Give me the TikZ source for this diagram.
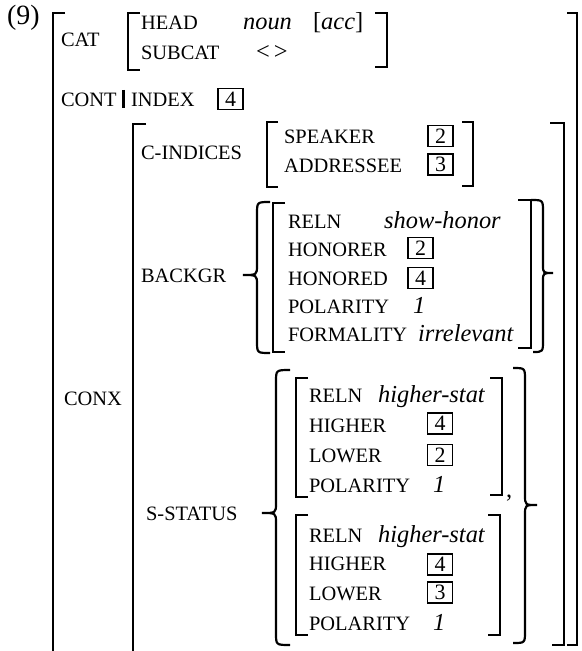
\documentclass[tikz,border=0pt]{standalone}
\usepackage{fontspec}
\setmainfont{Liberation Serif}
\newcommand\avmL[4]{\draw (#1+#4,#2) -- (#1,#2) -- (#1,#3) -- (#1+#4,#3);}
\newcommand\avmR[4]{\draw (#1-#4,#2) -- (#1,#2) -- (#1,#3) -- (#1-#4,#3);}
% tip x, stem x, end x, top, mid, bottom
\newcommand\braceL[6]{\draw (#3,#4) .. controls (#2,#4) .. (#2,#4+12) -- (#2,#5-10) .. controls (#2,#5) .. (#1,#5) .. controls (#2,#5) .. (#2,#5+10) -- (#2,#6-12) .. controls (#2,#6) .. (#3,#6);}
\begin{document}
\begin{tikzpicture}[x=1bp,y=-1bp,line width=2.2bp,
  feat/.style={anchor=base west,inner sep=0pt,font=\fontsize{20.5}{20.5}\selectfont},
  val/.style={anchor=base west,inner sep=0pt,font=\fontsize{24.5}{24.5}\selectfont\itshape},
  plain/.style={anchor=base west,inner sep=0pt,font=\fontsize{24.5}{24.5}\selectfont},
  tag/.style={draw,line width=1.9bp,anchor=center,minimum width=25bp,minimum height=21bp,inner sep=0pt,font=\fontsize{22}{22}\selectfont}]
\useasboundingbox (0,0) rectangle (582,651);
% label
\node[plain,font=\fontsize{28}{28}\selectfont] (num) at (6,25) {(9)};
% outer brackets
\avmL{53}{13}{653}{12}
\draw (567,13) -- (577,13) -- (577,645) -- (567,645);
% CAT
\node[feat] (cat) at (60,47) {CAT};
\avmL{128}{13}{70}{12}
\avmR{387}{13}{67}{12}
\node[feat] (head) at (140,30) {HEAD};
\node[val] (noun) at (242,30) {noun};
\node[plain] (acc) at (312,30) {[\textit{acc}]};
\node[feat] (subcat) at (140,60) {SUBCAT};
\node[plain] (lt) at (255,60) {<\,>};
% CONT
\node[feat] (cont) at (60,107) {CONT};
\draw[line width=3bp] (123,90) -- (123,108);
\node[feat] (index) at (130,107) {INDEX};
\node[tag] (t1) at (230.5,99) {4};
% CONX
\node[feat] (conx) at (63,405) {CONX};
\avmL{133}{124}{653}{13}
\draw (550,123) -- (564,123) -- (564,645) -- (552,645);
% C-INDICES
\node[feat] (cind) at (140,159) {C-INDICES};
\avmL{267}{122}{187}{11}
\avmR{473}{122}{186}{11}
\node[feat] (spk) at (283,143) {SPEAKER};
\node[tag] (t2) at (440.5,136) {2};
\node[feat] (adr) at (283,172) {ADDRESSEE};
\node[tag] (t3) at (440.5,164.5) {3};
% BACKGR
\node[feat] (bg) at (140,282) {BACKGR};
\braceL{243}{257}{270}{202}{275}{353}
\avmL{273}{203}{352}{12}
\avmR{531}{200}{348}{13}
\draw (531,200) .. controls (543,200) .. (543,212) -- (543,265) .. controls (543,273) .. (553,273) .. controls (543,273) .. (543,281) -- (543,340) .. controls (543,352) .. (533,352);
\node[feat] (r1) at (287,228) {RELN};
\node[val] (sh) at (383,228) {show-honor};
\node[feat] (hr) at (287,256.5) {HONORER};
\node[tag] (t4) at (420.5,248) {2};
\node[feat] (hd) at (287,285) {HONORED};
\node[tag] (t5) at (420.5,278) {4};
\node[feat] (pol1) at (287,313) {POLARITY};
\node[val] (one1) at (412,313) {1};
\node[feat] (form) at (287,341.5) {FORMALITY};
\node[val] (irr) at (417,341.5) {irrelevant};
% S-STATUS
\node[feat] (ss) at (145,520) {S-STATUS};
\braceL{262}{276}{290}{370}{513}{645}
\draw (513,368) .. controls (525,368) .. (525,380) -- (525,495) .. controls (525,505) .. (537,505) .. controls (525,505) .. (525,515) -- (525,631) .. controls (525,643) .. (513,643);
% AVM 1
\avmL{296}{378}{497}{12}
\avmR{502}{378}{495}{12}
\node[plain] (comma) at (505,497) {,};
\node[feat] (a1) at (308,402) {RELN};
\node[val] (hs1) at (377,402) {higher-stat};
\node[feat] (a2) at (308,432) {HIGHER};
\node[tag] (t6) at (440,423.5) {4};
\node[feat] (a3) at (308,462) {LOWER};
\node[tag] (t7) at (440,455) {2};
\node[feat] (a4) at (308,492) {POLARITY};
\node[val] (one2) at (432,492) {1};
% AVM 2
\avmL{296}{515}{635}{12}
\avmR{500}{515}{635}{12}
\node[feat] (b1) at (308,542) {RELN};
\node[val] (hs2) at (377,542) {higher-stat};
\node[feat] (b2) at (308,570) {HIGHER};
\node[tag] (t8) at (440,564.5) {4};
\node[feat] (b3) at (308,600) {LOWER};
\node[tag] (t9) at (440,592.5) {3};
\node[feat] (b4) at (308,630) {POLARITY};
\node[val] (one3) at (432,630) {1};
\end{tikzpicture}
\end{document}
